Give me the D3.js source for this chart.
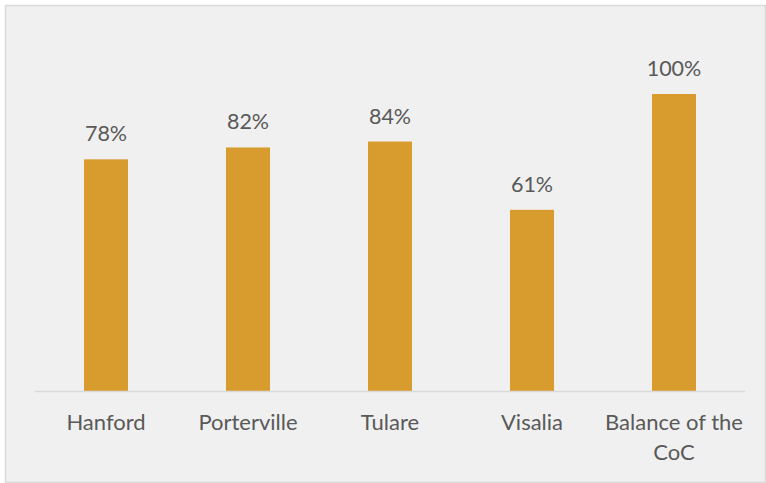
<!DOCTYPE html>
<html>
<head>
    <script src="https://d3js.org/d3.v7.min.js"></script>
    <style>
        body { margin: 0; background: #fff; }
        text { font-family: Lato, "Open Sans", sans-serif; fill: #595959; }
    </style>
</head>
<body>
    <script>
        var categories = ["Hanford", "Porterville", "Tulare", "Visalia", "Balance of the CoC"];
        var values = [78, 82, 84, 61, 100];

        var width = 766, height = 483;
        var svg = d3.select("body").append("svg")
            .attr("width", width)
            .attr("height", height);

        // chart area background + border
        svg.append("rect")
            .attr("x", 5.5).attr("y", 5.5)
            .attr("width", 760).attr("height", 477)
            .attr("fill", "#F0F0F0")
            .attr("stroke", "#D9D9D9")
            .attr("stroke-width", 1.5);

        var x = d3.scaleBand()
            .domain(categories)
            .range([35, 745])
            .paddingInner(0.69)
            .paddingOuter(0.345);

        var y = d3.scaleLinear()
            .domain([0, 100])
            .range([391, 94]);

        svg.selectAll(".bar")
            .data(values)
            .enter().append("rect")
            .attr("class", "bar")
            .attr("x", function (d, i) { return x(categories[i]); })
            .attr("y", function (d) { return y(d); })
            .attr("width", x.bandwidth())
            .attr("height", function (d) { return y(0) - y(d); })
            .attr("fill", "#D89B2D");

        // baseline
        svg.append("line")
            .attr("x1", 35).attr("x2", 745)
            .attr("y1", y(0) + 0.5).attr("y2", y(0) + 0.5)
            .attr("stroke", "#D9D9D9")
            .attr("stroke-width", 1.5);

        // value labels
        svg.selectAll(".val")
            .data(values)
            .enter().append("text")
            .attr("class", "val")
            .attr("x", function (d, i) { return x(categories[i]) + x.bandwidth() / 2; })
            .attr("y", function (d) { return y(d) - 18; })
            .attr("text-anchor", "middle")
            .attr("font-size", "21.5px")
            .text(function (d) { return d + "%"; });

        // category labels, wrapped like the original
        var lines = [["Hanford"], ["Porterville"], ["Tulare"], ["Visalia"], ["Balance of the", "CoC"]];
        var cat = svg.selectAll(".cat")
            .data(categories)
            .enter().append("text")
            .attr("class", "cat")
            .attr("text-anchor", "middle")
            .attr("font-size", "22px");
        cat.each(function (d, i) {
            var t = d3.select(this);
            lines[i].forEach(function (s, j) {
                t.append("tspan")
                    .attr("x", x(d) + x.bandwidth() / 2)
                    .attr("y", 430 + j * 30)
                    .text(s);
            });
        });
    </script>
</body>
</html>
